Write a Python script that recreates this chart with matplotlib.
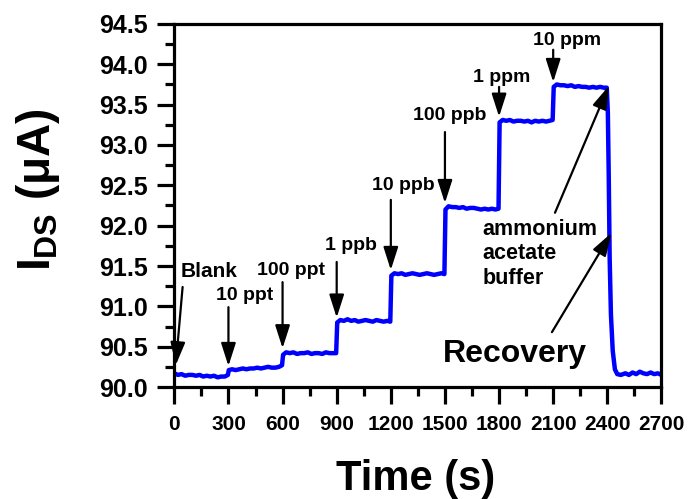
import matplotlib
matplotlib.use('Agg')
import matplotlib.pyplot as plt
from matplotlib.ticker import MultipleLocator

# sensor response (time in s, current in uA)
time_s = [0, 20, 40, 60, 80, 100, 120, 140, 160, 180, 200, 220, 240, 260, 280, 297,
          302, 320, 340, 360, 380, 400, 420, 440, 460, 480, 500, 520, 540, 560, 580, 597,
          603, 620, 640, 660, 680, 700, 720, 740, 760, 780, 800, 820, 840, 860, 880, 897,
          903, 920, 940, 960, 980, 1000, 1020, 1040, 1060, 1080, 1100, 1120, 1140, 1160, 1180, 1197,
          1203, 1220, 1240, 1260, 1280, 1300, 1320, 1340, 1360, 1380, 1400, 1420, 1440, 1460, 1480, 1497,
          1503, 1520, 1540, 1560, 1580, 1600, 1620, 1640, 1660, 1680, 1700, 1720, 1740, 1760, 1780, 1797,
          1803, 1820, 1840, 1860, 1880, 1900, 1920, 1940, 1960, 1980, 2000, 2020, 2040, 2060, 2080, 2097,
          2103, 2120, 2140, 2160, 2180, 2200, 2220, 2240, 2260, 2280, 2300, 2320, 2340, 2360, 2380, 2397,
          2403, 2408, 2413, 2420, 2430, 2442, 2455,
          2475, 2500, 2520, 2540, 2560, 2580, 2600, 2620, 2640, 2660, 2680, 2700]
current_ua = [90.17, 90.15, 90.16, 90.14, 90.15, 90.15, 90.14, 90.15, 90.13, 90.14, 90.13, 90.14, 90.12, 90.13, 90.13, 90.15,
              90.21, 90.22, 90.21, 90.22, 90.23, 90.22, 90.23, 90.23, 90.24, 90.23, 90.24, 90.25, 90.24, 90.24, 90.25, 90.27,
              90.40, 90.43, 90.42, 90.43, 90.41, 90.42, 90.42, 90.43, 90.41, 90.42, 90.42, 90.41, 90.43, 90.42, 90.42, 90.42,
              90.80, 90.83, 90.82, 90.84, 90.82, 90.83, 90.81, 90.82, 90.83, 90.82, 90.81, 90.83, 90.82, 90.81, 90.82, 90.81,
              91.38, 91.41, 91.40, 91.41, 91.39, 91.40, 91.41, 91.40, 91.39, 91.40, 91.41, 91.40, 91.39, 91.40, 91.41, 91.40,
              92.20, 92.24, 92.23, 92.23, 92.22, 92.23, 92.21, 92.22, 92.22, 92.21, 92.20, 92.21, 92.20, 92.21, 92.20, 92.21,
              93.28, 93.31, 93.30, 93.31, 93.29, 93.30, 93.30, 93.29, 93.30, 93.28, 93.30, 93.29, 93.30, 93.29, 93.30, 93.31,
              93.72, 93.75, 93.74, 93.74, 93.73, 93.74, 93.72, 93.73, 93.72, 93.72, 93.71, 93.72, 93.71, 93.72, 93.71, 93.71,
              93.40, 92.60, 91.60, 90.90, 90.45, 90.22, 90.16,
              90.15, 90.17, 90.15, 90.18, 90.16, 90.19, 90.17, 90.16, 90.18, 90.16, 90.17, 90.15]

# annotation labels: text position, arrow tail, arrow tip (data coords)
labels = ['Blank', '10 ppt', '100 ppt', '1 ppb', '10 ppb', '100 ppb', '1 ppm', '10 ppm']
label_xy = [(192, 91.43), (387, 91.13), (647, 91.45), (979, 91.76),
            (1267, 92.50), (1529, 93.37), (1815, 93.84), (2178, 94.30)]
arrow_tail = [(46, 91.24), (300, 90.99), (600, 91.30), (900, 91.55),
              (1200, 92.32), (1500, 93.16), (1800, 93.72), (2100, 94.18)]
arrow_tip = [(8, 90.27), (300, 90.26), (600, 90.48), (900, 90.86),
             (1200, 91.45), (1500, 92.28), (1800, 93.35), (2100, 93.78)]

plt.rcParams['font.family'] = ['Liberation Sans', 'DejaVu Sans']
plt.rcParams['font.weight'] = 'bold'
plt.rcParams['mathtext.fontset'] = 'custom'
plt.rcParams['mathtext.rm'] = 'Liberation Sans:bold'
plt.rcParams['mathtext.it'] = 'Liberation Sans:bold'
plt.rcParams['mathtext.bf'] = 'Liberation Sans:bold'

fig = plt.figure(figsize=(6.89, 4.99), dpi=100)
ax = fig.add_axes([0.253, 0.2244, 0.707, 0.7276])

ax.plot(time_s, current_ua, color='#0000ff', lw=3.2, solid_joinstyle='round')

ax.set_xlim(0, 2700)
ax.set_ylim(90.0, 94.5)
ax.xaxis.set_major_locator(MultipleLocator(300))
ax.xaxis.set_minor_locator(MultipleLocator(150))
ax.yaxis.set_major_locator(MultipleLocator(0.5))
ax.yaxis.set_minor_locator(MultipleLocator(0.25))
ax.yaxis.set_major_formatter(matplotlib.ticker.FormatStrFormatter('%.1f'))

for s in ax.spines.values():
    s.set_linewidth(2.3)
ax.tick_params(which='major', direction='out', length=12, width=2.3)
ax.tick_params(which='minor', direction='out', length=6.5, width=2.3)
ax.tick_params(axis='x', which='both', top=False, labelsize=15, pad=8)
ax.tick_params(axis='y', which='both', right=False, labelsize=18, pad=7)

aprops = dict(arrowstyle='-|>,head_length=1.0,head_width=0.32', color='black',
              lw=1.6, mutation_scale=14, shrinkA=0, shrinkB=0)
for i in range(len(labels)):
    ax.text(label_xy[i][0], label_xy[i][1], labels[i], fontsize=14 if i > 0 else 15,
            fontweight='bold', ha='center', va='center')
    ax.annotate('', xy=arrow_tip[i], xytext=arrow_tail[i], arrowprops=aprops)

ax.text(1710, 91.65, 'ammonium\nacetate\nbuffer', fontsize=15.5, fontweight='bold',
        ha='left', va='center', linespacing=1.2)
ax.annotate('', xy=(2408, 93.73), xytext=(2110, 92.16), arrowprops=aprops)

ax.text(1489, 90.31, 'Recovery', fontsize=23, fontweight='bold', ha='left', va='baseline')
ax.annotate('', xy=(2423, 91.91), xytext=(2093, 90.68), arrowprops=aprops)

fig.text(38 / 689, 1 - 190 / 499, '$I_{DS}$ (μA)', rotation=90, fontsize=33,
         fontweight='bold', ha='center', va='center')
fig.text(416 / 689, 1 - 490 / 499, 'Time (s)', fontsize=30, fontweight='bold',
         ha='center', va='baseline')

fig.savefig('out.png', dpi=100, facecolor='white')
